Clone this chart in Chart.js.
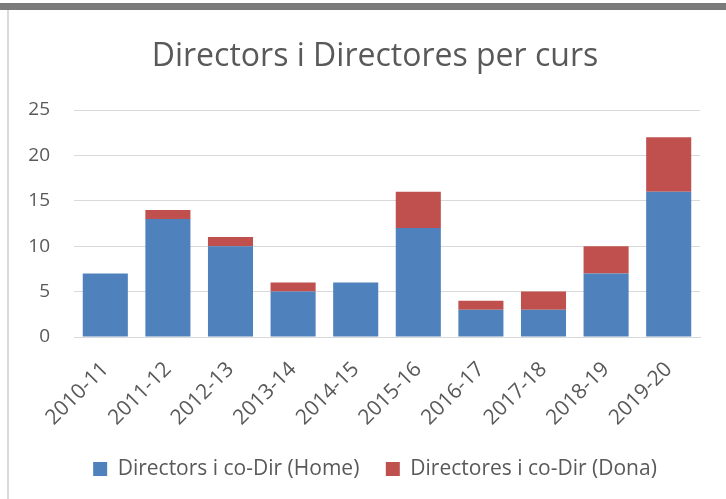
<!DOCTYPE html>
<html>
<head>
<meta charset="utf-8">
<script src="https://cdn.jsdelivr.net/npm/chart.js@4/dist/chart.umd.min.js"></script>
<style>
  html, body { margin: 0; padding: 0; background: #fff; }
  #wrap { position: relative; width: 726px; height: 499px; }
  #topbar { position: absolute; left: 0; top: 3px; width: 726px; height: 7px; background: #7b7b7b; }
  #leftbar { position: absolute; left: 7px; top: 10px; width: 2px; height: 489px; background: #d9d9d9; }
  canvas { position: absolute; left: 0; top: 0; }
</style>
</head>
<body>
<div id="wrap">
  <canvas id="myChart" width="726" height="499"></canvas>
  <div id="topbar"></div>
  <div id="leftbar"></div>
</div>
<script>
const cursos = ['2010-11', '2011-12', '2012-13', '2013-14', '2014-15', '2015-16', '2016-17', '2017-18', '2018-19', '2019-20'];
const homes = [7, 13, 10, 5, 6, 12, 3, 3, 7, 16];
const dones = [0, 1, 1, 1, 0, 4, 1, 2, 3, 6];
const yMax = 25;
const yStep = 5;

const grey = '#595959';
const font = 'Open Sans';

const ctx = document.getElementById('myChart').getContext('2d');
const chart = new Chart(ctx, {
  type: 'bar',
  data: {
    labels: cursos,
    datasets: [
      { label: 'Directors i co-Dir (Home)', data: homes, backgroundColor: '#4F81BD' },
      { label: 'Directores i co-Dir (Dona)', data: dones, backgroundColor: '#C0504D' }
    ]
  },
  options: {
    responsive: false,
    animation: false,
    devicePixelRatio: 1,
    layout: { padding: { left: 50, right: 26, top: 0, bottom: 9.5 } },
    datasets: { bar: { categoryPercentage: 1, barPercentage: 0.72 } },
    plugins: {
      title: {
        display: true,
        text: 'Directors i Directores per curs',
        color: grey,
        font: { family: font, size: 32, weight: 'normal' },
        padding: { top: 37.8, bottom: 33.8 }
      },
      legend: {
        position: 'bottom',
        labels: {
          color: grey,
          font: { family: font, size: 21 },
          boxWidth: 14,
          boxHeight: 14,
          padding: 26.5
        }
      },
      tooltip: { enabled: false }
    },
    scales: {
      x: {
        stacked: true,
        grid: { display: false },
        border: { display: true, color: '#d9d9d9', width: 1 },
        ticks: {
          color: grey,
          font: { family: font, size: 21 },
          minRotation: 45,
          maxRotation: 45,
          padding: 12
        },
        afterFit: scale => {
          scale.height = 95;
          scale.paddingLeft = 0;     // no extra room for the first rotated label
          scale.paddingRight = 0;
        }
      },
      y: {
        stacked: true,
        min: 0,
        max: yMax,
        grid: { color: '#d9d9d9', drawTicks: false },
        border: { display: false },
        ticks: {
          stepSize: yStep,
          color: grey,
          font: { family: font, size: 19 },
          padding: 24
        },
        afterFit: scale => {
          scale.width = 24;
          scale._computeLabelArea = () => undefined;   // labels sit left of the narrow axis box
        }
      }
    }
  }
});
</script>
</body>
</html>
